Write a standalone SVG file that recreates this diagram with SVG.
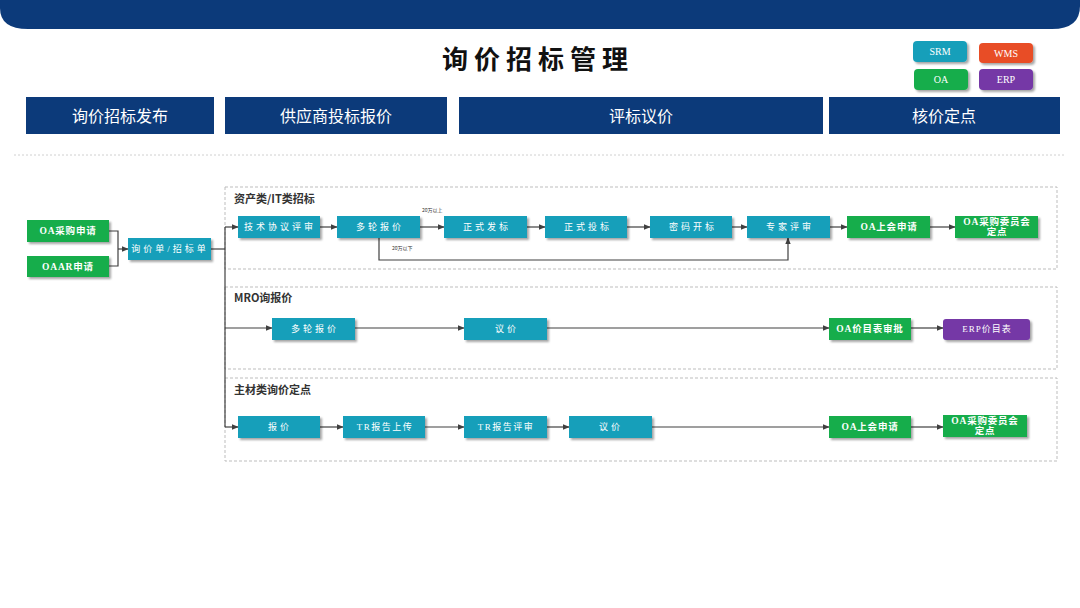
<svg xmlns="http://www.w3.org/2000/svg" width="1080" height="608" viewBox="0 0 1080 608">
<defs>
<filter id="sh" x="-10%" y="-20%" width="130%" height="160%">
<feDropShadow dx="2" dy="2" stdDeviation="1.2" flood-color="#000" flood-opacity="0.35"/>
</filter>
<marker id="ar" viewBox="0 0 10 10" refX="9" refY="5" markerWidth="7" markerHeight="7" orient="auto" markerUnits="userSpaceOnUse">
<path d="M0,1 L10,5 L0,9 Z" fill="#404040"/>
</marker>
</defs>
<style>
.hdr{fill:#0c3a7a}
.htxt{font-family:"Noto Sans CJK SC","Noto Sans",sans-serif;font-size:16px;fill:#fff;text-anchor:middle}
.teal{fill:#179fba;filter:url(#sh)}
.green{fill:#17ad4c;filter:url(#sh)}
.purple{fill:#7437a6;filter:url(#sh)}
.orange{fill:#e84e28;filter:url(#sh)}
.nt{font-family:"Liberation Serif","Noto Sans CJK SC",serif;font-size:9px;fill:#fff;text-anchor:middle;letter-spacing:3px}
.nb{font-family:"Liberation Serif","Noto Sans CJK SC",serif;font-size:9.5px;fill:#fff;text-anchor:middle;font-weight:bold;letter-spacing:0.8px}
.lg{font-family:"Liberation Serif",serif;font-size:10px;fill:#fff;text-anchor:middle}
.sec{fill:none;stroke:#bdbdbd;stroke-width:1;stroke-dasharray:3,2}
.stl{font-family:"Noto Sans CJK SC","Noto Sans",sans-serif;font-size:11px;font-weight:bold;fill:#333}
.ln{fill:none;stroke:#404040;stroke-width:1.2}
.sm{font-family:"Noto Sans CJK SC",sans-serif;font-size:5px;fill:#333}
</style>
<path d="M0 0 H1080 V6 Q1080 29 1052 29 H28 Q0 29 0 8 Z" fill="#0c3a7a"/>
<text x="538" y="69" font-family="Noto Sans CJK SC,sans-serif" font-size="26" font-weight="bold" fill="#111" text-anchor="middle" letter-spacing="6">询价招标管理</text>
<g id="legend">
<rect x="913" y="41" width="54" height="21" rx="4" class="teal"/><text x="940" y="55" class="lg">SRM</text>
<rect x="979" y="43" width="54" height="20" rx="4" class="orange"/><text x="1006" y="57" class="lg">WMS</text>
<rect x="914" y="69" width="54" height="21" rx="4" class="green"/><text x="941" y="83" class="lg">OA</text>
<rect x="979" y="69" width="54" height="21" rx="4" class="purple"/><text x="1006" y="83" class="lg">ERP</text>
</g>
<g id="phases">
<rect x="26" y="97" width="188" height="37" class="hdr"/><text x="120" y="122" class="htxt">询价招标发布</text>
<rect x="225" y="97" width="222" height="37" class="hdr"/><text x="336" y="122" class="htxt">供应商投标报价</text>
<rect x="459" y="97" width="364" height="37" class="hdr"/><text x="641" y="122" class="htxt">评标议价</text>
<rect x="829" y="97" width="231" height="37" class="hdr"/><text x="944" y="122" class="htxt">核价定点</text>
</g>
<line x1="14" y1="155" x2="1066" y2="155" stroke="#d0d0d0" stroke-width="1" stroke-dasharray="2,2"/>
<g id="sections">
<rect x="225" y="187" width="832" height="82" class="sec"/>
<text x="234" y="203" class="stl">资产类/IT类招标</text>
<rect x="225" y="287" width="832" height="82" class="sec"/>
<text x="234" y="302" class="stl">MRO询报价</text>
<rect x="225" y="378" width="832" height="83" class="sec"/>
<text x="234" y="394" class="stl">主材类询价定点</text>
</g>
<g id="connectors">
<path class="ln" d="M109 231 H118 V266 H109"/>
<path class="ln" d="M118 249 H128" marker-end="url(#ar)"/>
<path class="ln" d="M211 249 H225"/>
<path class="ln" d="M225 227 V427"/>
<path class="ln" d="M225 227 H238" marker-end="url(#ar)"/>
<path class="ln" d="M225 328 H272" marker-end="url(#ar)"/>
<path class="ln" d="M225 427 H238" marker-end="url(#ar)"/>
<path class="ln" d="M320 227 H337" marker-end="url(#ar)"/>
<path class="ln" d="M420 227 H444" marker-end="url(#ar)"/>
<path class="ln" d="M527 227 H545" marker-end="url(#ar)"/>
<path class="ln" d="M627 227 H650" marker-end="url(#ar)"/>
<path class="ln" d="M732 227 H747" marker-end="url(#ar)"/>
<path class="ln" d="M830 227 H847" marker-end="url(#ar)"/>
<path class="ln" d="M930 227 H955" marker-end="url(#ar)"/>
<path class="ln" d="M379 238 V260 H788 V238" marker-end="url(#ar)"/>
<text x="422" y="212" class="sm">20万以上</text>
<text x="392" y="250" class="sm">20万以下</text>
<path class="ln" d="M355 328 H464" marker-end="url(#ar)"/>
<path class="ln" d="M547 328 H829" marker-end="url(#ar)"/>
<path class="ln" d="M911 328 H943" marker-end="url(#ar)"/>
<path class="ln" d="M320 427 H343" marker-end="url(#ar)"/>
<path class="ln" d="M425 427 H464" marker-end="url(#ar)"/>
<path class="ln" d="M547 427 H569" marker-end="url(#ar)"/>
<path class="ln" d="M652 427 H829" marker-end="url(#ar)"/>
<path class="ln" d="M911 427 H943" marker-end="url(#ar)"/>
</g>
<g id="n-oa1"><rect x="27" y="220" width="82" height="22" class="green"/><text x="68" y="234" class="nb">OA采购申请</text></g>
<g id="n-oaar"><rect x="27" y="256" width="82" height="21" class="green"/><text x="68" y="270" class="nb">OAAR申请</text></g>
<g id="n-xjd"><rect x="128" y="238" width="83" height="22" class="teal"/><text x="170" y="252" class="nt">询价单/招标单</text></g>
<g id="r1-1"><rect x="238" y="216" width="82" height="22" class="teal"/><text x="280" y="230" class="nt">技术协议评审</text></g>
<g id="r1-2"><rect x="337" y="216" width="83" height="22" class="teal"/><text x="380" y="230" class="nt">多轮报价</text></g>
<g id="r1-3"><rect x="444" y="216" width="83" height="22" class="teal"/><text x="487" y="230" class="nt">正式发标</text></g>
<g id="r1-4"><rect x="545" y="216" width="82" height="22" class="teal"/><text x="588" y="230" class="nt">正式投标</text></g>
<g id="r1-5"><rect x="650" y="216" width="82" height="22" class="teal"/><text x="693" y="230" class="nt">密码开标</text></g>
<g id="r1-6"><rect x="747" y="216" width="83" height="22" class="teal"/><text x="790" y="230" class="nt">专家评审</text></g>
<g id="r1-7"><rect x="847" y="216" width="83" height="22" class="green"/><text x="889" y="230" class="nb">OA上会申请</text></g>
<g id="r1-8"><rect x="955" y="216" width="83" height="22" class="green"/><text x="997" y="225" class="nb">OA采购委员会</text><text x="997" y="235" class="nb">定点</text></g>
<g id="r2-1"><rect x="272" y="318" width="83" height="22" class="teal"/><text x="315" y="332" class="nt">多轮报价</text></g>
<g id="r2-2"><rect x="464" y="318" width="83" height="22" class="teal"/><text x="507" y="332" class="nt">议价</text></g>
<g id="r2-3"><rect x="829" y="318" width="82" height="22" class="green"/><text x="870" y="332" class="nb">OA价目表审批</text></g>
<g id="r2-4"><rect x="943" y="319" width="87" height="21" rx="3" class="purple"/><text x="987" y="332" class="nt" style="letter-spacing:1px">ERP价目表</text></g>
<g id="r3-1"><rect x="238" y="416" width="82" height="22" class="teal"/><text x="280" y="430" class="nt">报价</text></g>
<g id="r3-2"><rect x="343" y="416" width="82" height="22" class="teal"/><text x="385" y="430" class="nt" style="letter-spacing:1.5px">TR报告上传</text></g>
<g id="r3-3"><rect x="464" y="416" width="83" height="22" class="teal"/><text x="506" y="430" class="nt" style="letter-spacing:1.5px">TR报告评审</text></g>
<g id="r3-4"><rect x="569" y="416" width="83" height="22" class="teal"/><text x="611" y="430" class="nt">议价</text></g>
<g id="r3-5"><rect x="829" y="416" width="82" height="22" class="green"/><text x="870" y="430" class="nb">OA上会申请</text></g>
<g id="r3-6"><rect x="943" y="415" width="84" height="22" class="green"/><text x="985" y="424" class="nb">OA采购委员会</text><text x="985" y="434" class="nb">定点</text></g>
</svg>
